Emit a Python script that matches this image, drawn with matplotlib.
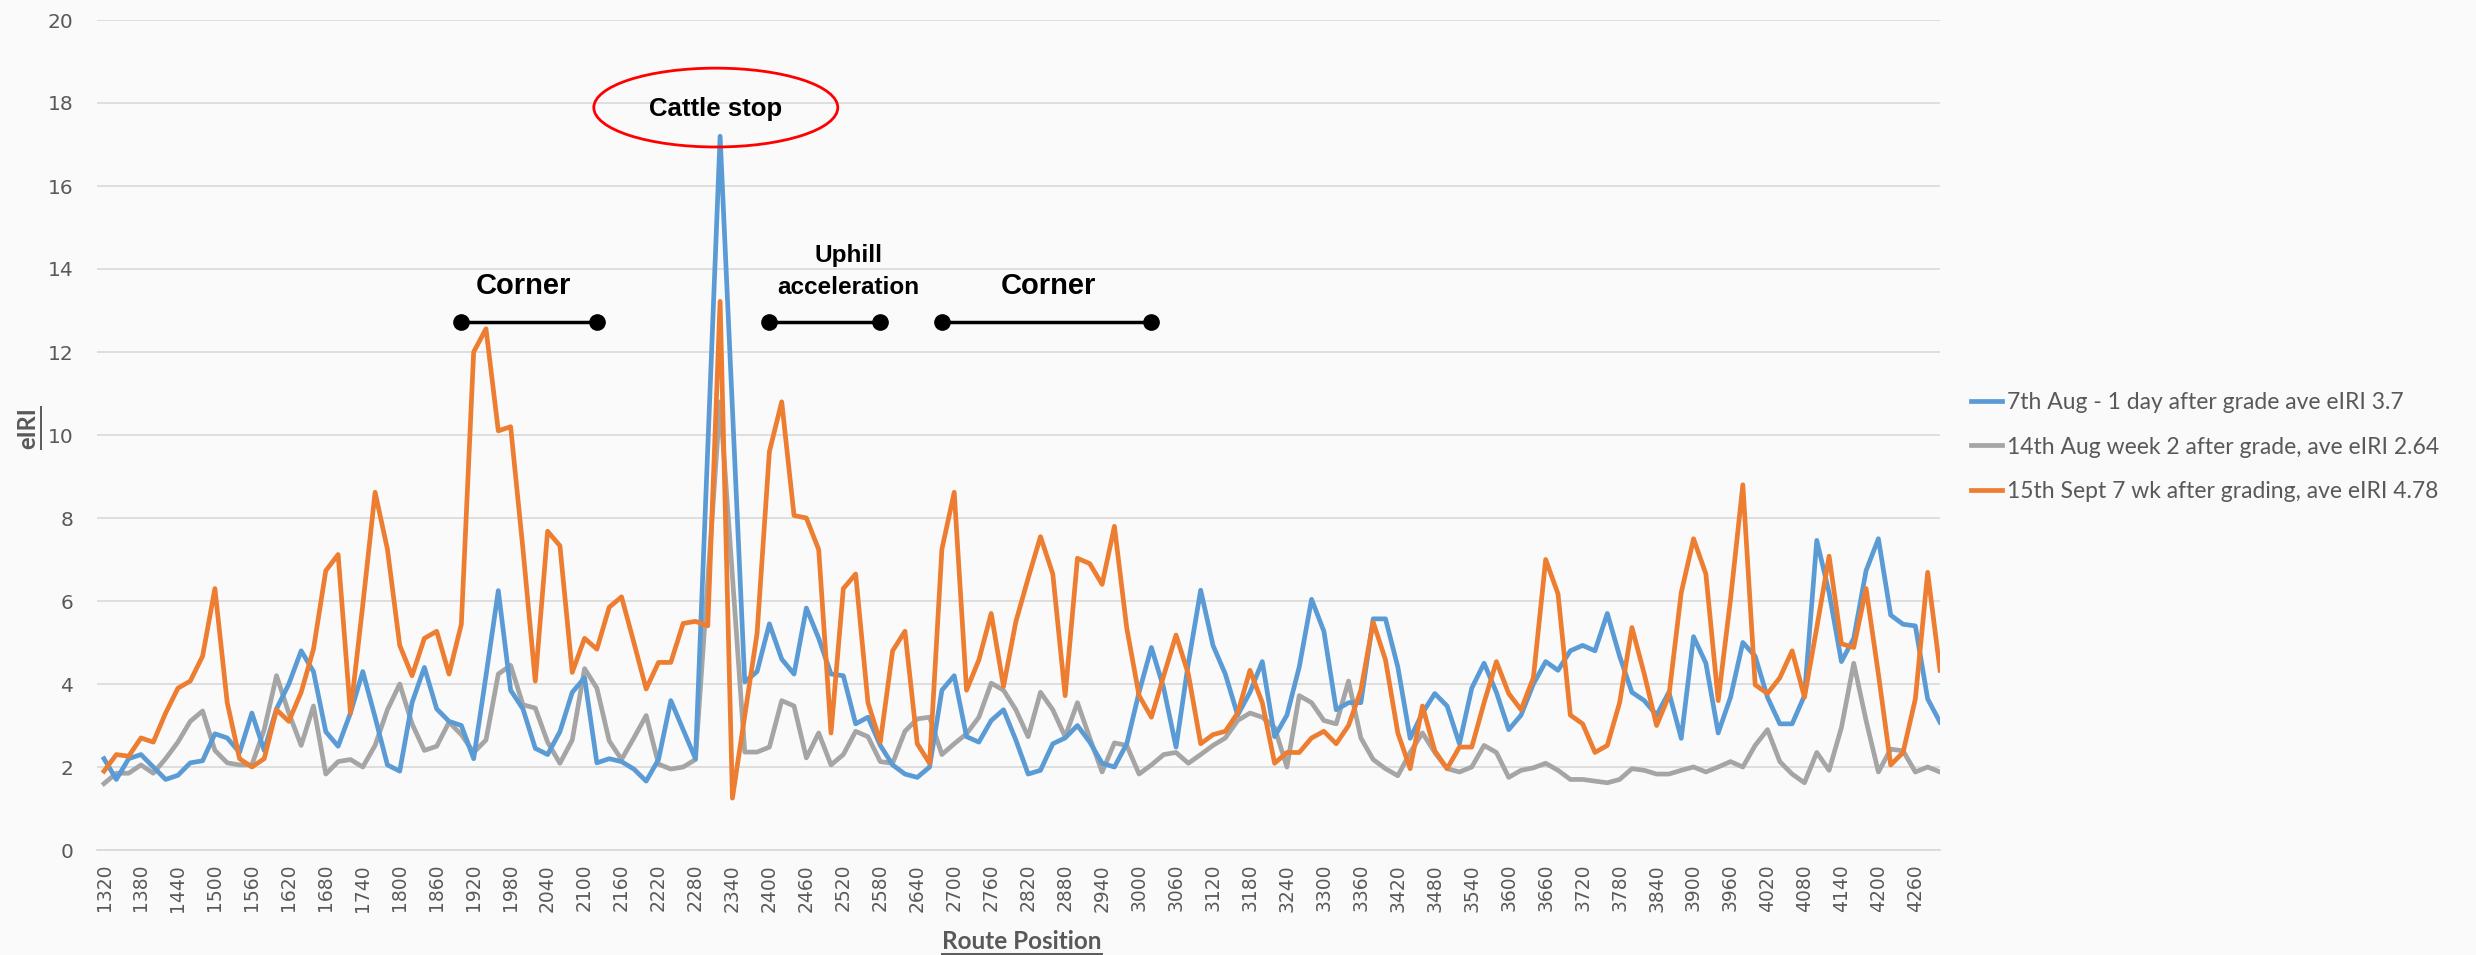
import matplotlib
matplotlib.use("Agg")
import matplotlib.pyplot as plt
from matplotlib.patches import Ellipse
from matplotlib.lines import Line2D

# ---------------- data ----------------
route_position = list(range(1320, 4301, 20))

aug7 = [2.2, 1.7, 2.2, 2.3, 2.0, 1.7, 1.8, 2.1, 2.15, 2.8, 2.7, 2.35, 3.3, 2.4,
        3.4, 4.0, 4.8, 4.3, 2.85, 2.5, 3.3, 4.3, 3.2, 2.05, 1.9, 3.55, 4.4, 3.4,
        3.1, 3.0, 2.2, 4.2, 6.25, 3.85, 3.4, 2.45, 2.3, 2.85, 3.8, 4.15, 2.1, 2.2,
        2.13, 1.95, 1.66, 2.18, 3.6, 2.9, 2.2, 9.7, 17.2, 10.6, 4.05, 4.3, 5.45, 4.6,
        4.24, 5.83, 5.1, 4.24, 4.2, 3.04, 3.2, 2.52, 2.05, 1.83, 1.75, 2.0, 3.85,
        4.2, 2.73, 2.6, 3.12, 3.38, 2.65, 1.83, 1.92, 2.56, 2.7, 3.0, 2.6, 2.09, 2.0,
        2.56, 3.8, 4.88, 3.9, 2.48, 4.5, 6.26, 4.93, 4.24, 3.25, 3.8, 4.54, 2.73, 3.25,
        4.41, 6.04, 5.27, 3.38, 3.55, 3.55, 5.57, 5.57, 4.41, 2.69, 3.3, 3.77, 3.47,
        2.56, 3.9, 4.5, 3.8, 2.9, 3.25, 4.0,
        4.54, 4.33, 4.8, 4.93, 4.8, 5.7, 4.67, 3.8, 3.6, 3.25, 3.8, 2.69, 5.14, 4.5,
        2.82, 3.68, 5.0, 4.67, 3.68, 3.04, 3.04, 3.72, 7.46, 6.2, 4.54, 5.1, 6.73, 7.5,
        5.66, 5.44, 5.4, 3.64, 3.08]

aug14 = [1.6, 1.85, 1.85, 2.05, 1.85, 2.2, 2.6, 3.1, 3.35, 2.4, 2.1, 2.05, 2.05, 2.9,
         4.2, 3.3, 2.52, 3.47, 1.83, 2.13, 2.18, 2.0, 2.52, 3.38, 4.0, 3.04, 2.4, 2.5,
         3.08, 2.78, 2.35, 2.65, 4.24, 4.45, 3.5, 3.42, 2.6, 2.09, 2.65, 4.37, 3.9, 2.63,
         2.18, 2.7, 3.24, 2.07, 1.95, 2.0, 2.18, 6.5, 10.8, 6.6, 2.36, 2.36, 2.48, 3.6,
         3.47, 2.22, 2.82, 2.05, 2.3, 2.86, 2.73, 2.13, 2.09, 2.86, 3.16, 3.2, 2.3,
         2.56, 2.8, 3.2, 4.02, 3.85, 3.38, 2.73, 3.8, 3.38, 2.73, 3.55, 2.7, 1.88, 2.58,
         2.52, 1.83, 2.05, 2.3, 2.35, 2.09, 2.3, 2.52, 2.7, 3.12, 3.3, 3.2, 2.95, 2.0,
         3.72, 3.55, 3.12, 3.04, 4.07, 2.7, 2.18, 1.96, 1.79, 2.35, 2.82, 2.35, 1.96,
         1.88, 2.0, 2.52, 2.35, 1.75, 1.92, 1.98,
         2.09, 1.92, 1.7, 1.7, 1.66, 1.62, 1.7, 1.96, 1.92, 1.83, 1.83, 1.92, 2.0, 1.88,
         2.0, 2.13, 2.0, 2.52, 2.9, 2.13, 1.83, 1.62, 2.35, 1.92, 2.95, 4.5, 3.12, 1.88,
         2.43, 2.39, 1.88, 2.0, 1.88]

sept15 = [1.9, 2.3, 2.26, 2.7, 2.6, 3.3, 3.9, 4.07, 4.67, 6.3, 3.55, 2.2, 2.0, 2.2,
          3.38, 3.1, 3.8, 4.84, 6.73, 7.12, 3.3, 5.9, 8.62, 7.25, 4.93, 4.2, 5.1, 5.27,
          4.24, 5.44, 12.0, 12.56, 10.1, 10.2, 7.25, 4.07, 7.68, 7.33, 4.28, 5.1, 4.84, 5.85,
          6.1, 5.0, 3.88, 4.52, 4.52, 5.46, 5.51, 5.4, 13.22, 1.25, 3.24, 5.22, 9.6, 10.8,
          8.06, 8.0, 7.24, 2.82, 6.3, 6.65, 3.55, 2.6, 4.8, 5.27, 2.56, 2.09, 7.25,
          8.62, 3.85, 4.58, 5.7, 3.94, 5.5, 6.55, 7.55, 6.65, 3.72, 7.03, 6.9, 6.4, 7.8,
          5.35, 3.72, 3.2, 4.2, 5.18, 4.24, 2.56, 2.78, 2.86, 3.3, 4.33, 3.55, 2.09, 2.35,
          2.35, 2.7, 2.86, 2.56, 3.0, 3.85, 5.49, 4.58, 2.82, 1.96, 3.47, 2.39, 1.96,
          2.48, 2.48, 3.55, 4.54, 3.77, 3.38, 4.15,
          7.0, 6.17, 3.25, 3.04, 2.35, 2.52, 3.55, 5.36, 4.24, 3.0, 3.72, 6.2, 7.5, 6.65,
          3.6, 6.04, 8.8, 3.98, 3.77, 4.15, 4.8, 3.68, 5.36, 7.08, 4.97, 4.88, 6.3, 4.24,
          2.05, 2.35, 3.64, 6.69, 4.33]

series_labels = ["7th Aug - 1 day after grade ave eIRI 3.7",
                 "14th Aug week 2 after grade, ave eIRI 2.64",
                 "15th Sept 7 wk after grading, ave eIRI 4.78"]
tick_positions = list(range(1320, 4261, 60))
y_ticks = list(range(0, 21, 2))

# annotation spans (route position ranges)
span_corner1 = [1900, 2120]
span_uphill = [2400, 2580]
span_corner2 = [2680, 3020]

# ---------------- figure ----------------
W, H = 2476, 955
fig = plt.figure(figsize=(W / 100, H / 100), dpi=100)
bg = "#FAFAFA"
fig.patch.set_facecolor(bg)

ax_l, ax_r = 97, 1940
ax_b, ax_t = 850, 20
ax = fig.add_axes([ax_l / W, 1 - ax_b / H, (ax_r - ax_l) / W, (ax_b - ax_t) / H])
ax.set_facecolor(bg)

c_blue, c_gray, c_orange = "#5B9BD5", "#A5A5A5", "#ED7D31"
lw = 3.4
ax.plot(route_position, aug7, color=c_blue, lw=lw, label=series_labels[0], zorder=3,
        solid_joinstyle="round")
ax.plot(route_position, aug14, color=c_gray, lw=lw, label=series_labels[1], zorder=2,
        solid_joinstyle="round")
ax.plot(route_position, sept15, color=c_orange, lw=lw, label=series_labels[2], zorder=4,
        solid_joinstyle="round")

x_left = 1320 - (104 - ax_l) / 12.32 * 20
ax.set_xlim(x_left, 4300)
ax.set_ylim(0, 20)
ax.set_yticks(y_ticks)
ax.set_xticks(tick_positions)
ax.set_xticklabels([str(t) for t in tick_positions], rotation=90, fontsize=13.5,
                   color="#595959", family="DejaVu Sans")
ax.set_yticklabels([str(t) for t in y_ticks], fontsize=14.5, color="#595959",
                   family="DejaVu Sans")
ax.tick_params(axis="y", length=0, pad=17)
ax.tick_params(axis="x", length=0, pad=10)
ax.grid(axis="y", color="#D9D9D9", lw=1.2, zorder=0)
for s in ["top", "right", "left"]:
    ax.spines[s].set_visible(False)
ax.spines["bottom"].set_color("#D9D9D9")
ax.spines["bottom"].set_linewidth(1.2)

# annotations
txt_kw = dict(ha="center", va="center", fontweight="bold", color="black",
              family="Liberation Sans", zorder=6)
ax.text(2312, 17.85, "Cattle stop", fontsize=18.5, **txt_kw)
ax.add_patch(Ellipse((2313, 17.89), 396, 1.9, fill=False, edgecolor="#FF0000", lw=2.0,
                     zorder=5))
ax.text(2000, 13.6, "Corner", fontsize=21, **txt_kw)
ax.text(2528, 13.93, "Uphill\nacceleration", fontsize=17.5, linespacing=1.5, **txt_kw)
ax.text(2853, 13.6, "Corner", fontsize=21, **txt_kw)
for span in (span_corner1, span_uphill, span_corner2):
    ax.plot(span, [12.72, 12.72], color="black", lw=2.5, marker="o", markersize=11,
            zorder=6, clip_on=False)

# legend
leg = fig.legend(loc="center left", bbox_to_anchor=(1950 / W, 1 - 447 / H), frameon=False,
                 prop={"family": "Lato", "size": 16.5}, handlelength=1.38,
                 handletextpad=0.2, labelspacing=1.02)
for t in leg.get_texts():
    t.set_color("#595959")

# axis titles (bold, underlined)
t_x = fig.text(1022 / W, 1 - 941 / H, "Route Position", ha="center", va="center",
               fontsize=17.5, fontweight="bold", color="#595959", family="Lato")
t_y = fig.text(28 / W, 1 - 428 / H, "eIRI", ha="center", va="center", rotation=90,
               fontsize=17, fontweight="bold", color="#595959", family="Lato")

fig.canvas.draw()
r = fig.canvas.get_renderer()
bb = t_x.get_window_extent(r)
yy = bb.y0 - 1
fig.add_artist(Line2D([bb.x0 / W, bb.x1 / W], [yy / H, yy / H], color="#595959", lw=1.4,
                      transform=fig.transFigure))
bb = t_y.get_window_extent(r)
xx = bb.x1 + 1
fig.add_artist(Line2D([xx / W, xx / W], [bb.y0 / H, bb.y1 / H], color="#595959", lw=1.4,
                      transform=fig.transFigure))

fig.savefig("out.png", dpi=100, facecolor=fig.get_facecolor())
